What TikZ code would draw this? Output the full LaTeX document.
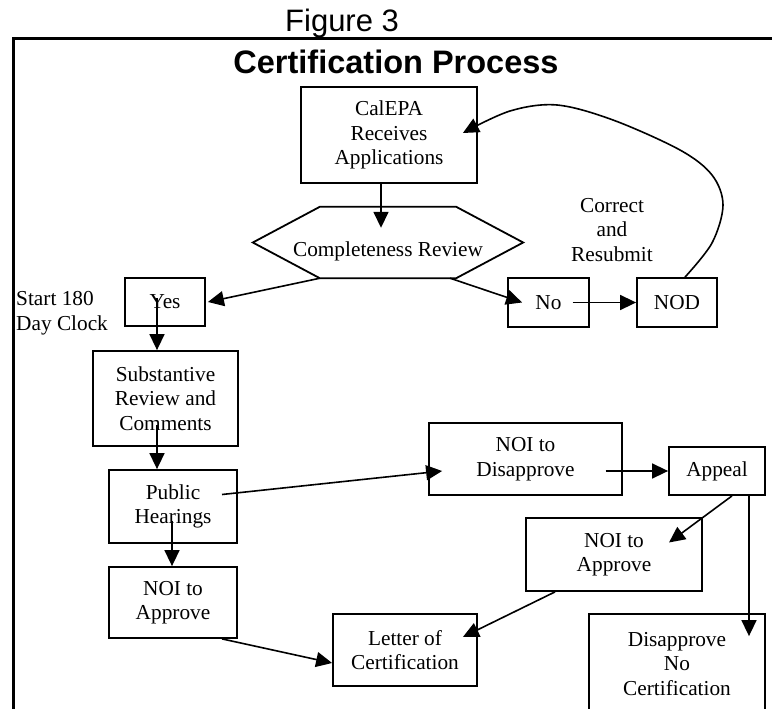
\documentclass[tikz,border=0pt]{standalone}
\usepackage{fontspec}
\setmainfont{Liberation Serif}
\newfontfamily\arialfont{Liberation Sans}
\usetikzlibrary{arrows.meta}
\begin{document}
\begin{tikzpicture}[x=1pt, y=-1pt,
  font=\fontsize{21.3}{24.5}\selectfont,
  box/.style={draw, line width=1.8pt, inner sep=0pt, align=center},
  arr/.style={line width=1.6pt, -{Triangle[length=16pt,width=15pt]}},
  lbl/.style={inner sep=0pt, align=center}]
\useasboundingbox (0,0) rectangle (772,709);
\clip (0,0) rectangle (772,709);

% outer frame (open at the right and bottom)
\draw[line width=3pt] (13,730) -- (13,39) -- (790,39);

% headings
\node[inner sep=0pt, anchor=base west, font=\arialfont\fontsize{31}{34}\selectfont] (fig) at (285,32) {Figure 3};
\node[inner sep=0pt, anchor=base, font=\arialfont\bfseries\fontsize{32.5}{36}\selectfont] (title) at (396,74) {Certification Process};

% process boxes
\node[box, minimum width=176pt, minimum height=96pt] (calepa) at (389,135) {CalEPA\\Receives\\Applications};
\node[lbl, minimum width=270pt, minimum height=71pt] (review) at (388,242.5) {\raisebox{-14pt}[0pt][0pt]{Completeness Review}};
\draw[line width=1.8pt] (review.west) -- ([xshift=67pt]review.north west) -- ([xshift=-67pt]review.north east)
  -- (review.east) -- ([xshift=-67pt]review.south east) -- ([xshift=67pt]review.south west) -- cycle;

\node[box, minimum width=80pt, minimum height=48pt] (yes) at (165,302) {Yes};
\node[box, minimum width=81pt, minimum height=49pt] (no) at (548.5,302.5) {No};
\node[box, minimum width=80pt, minimum height=49pt] (nod) at (677,302.5) {NOD};
\node[box, minimum width=145pt, minimum height=95pt] (subst) at (165.5,398.5) {Substantive\\Review and\\Comments};
\node[box, minimum width=128pt, minimum height=73pt] (public) at (173,506.5) {Public\\Hearings};
\node[box, minimum width=128pt, minimum height=71pt] (noiA) at (173,602.5) {NOI to\\Approve};
\node[box, minimum width=144pt, minimum height=72pt] (letter) at (405,650) {Letter of\\Certification};
\node[box, minimum width=193pt, minimum height=72pt] (noiD) at (525.5,459) {NOI to\\Disapprove};
\node[box, minimum width=96pt, minimum height=48pt] (appeal) at (717,471) {Appeal};
\node[box, minimum width=176pt, minimum height=73pt] (noiB) at (614,554.5) {NOI to\\Approve};
\node[box, minimum width=176pt, minimum height=104pt] (disap) at (677,666) {\raisebox{3pt}{\begin{tabular}{@{}c@{}}Disapprove\\No\\Certification\end{tabular}}};

% free labels
\node[lbl] (correct) at (612,230) {Correct\\and\\Resubmit};
\node[inner sep=0pt, anchor=west, align=left] (clock) at (16,313) {Start 180\\Day Clock};

% connectors
\draw[arr] ([xshift=-8pt]calepa.south) -- ([xshift=-7pt,yshift=-21pt]review.north);
\draw[arr] ([xshift=-68pt]review.south) -- ([xshift=2pt]yes.east);
\draw[arr] ([xshift=62pt]review.south) -- ([xshift=15pt]no.west);
\draw[arr] ([xshift=24pt]no.center) -- (nod.west);
\draw[arr] plot[smooth, tension=0.55] coordinates {([xshift=8pt]nod.north) (712,243) (723,205) (712,175) (680,150) (613,120) (557,105) (510,111) ([xshift=-15pt,yshift=2pt]calepa.east)};
\draw[arr] ([xshift=-8pt,yshift=4pt]yes.center) -- ([xshift=-8.5pt]subst.north);
\draw[arr] ([xshift=-8.5pt,yshift=-26pt]subst.center) -- ([xshift=-16pt]public.north);
\draw[arr] ([xshift=-1pt,yshift=-14pt]public.center) -- ([xshift=-1pt]noiA.north);
\draw[arr] ([xshift=49pt,yshift=12pt]public.center) -- ([xshift=14pt,yshift=-12pt]noiD.west);
\draw[arr] ([xshift=80pt,yshift=-12pt]noiD.center) -- (appeal.west);
\draw[arr] ([xshift=15pt]appeal.south) -- ([xshift=55pt,yshift=12pt]noiB.center);
\draw[arr] ([xshift=32pt]appeal.south) -- ([xshift=72pt,yshift=-23pt]disap.north);
\draw[arr] ([xshift=-59pt]noiB.south) -- ([xshift=-15pt,yshift=13pt]letter.east);
\draw[arr] ([xshift=49pt]noiA.south) -- ([yshift=-13pt]letter.west);
\end{tikzpicture}
\end{document}
